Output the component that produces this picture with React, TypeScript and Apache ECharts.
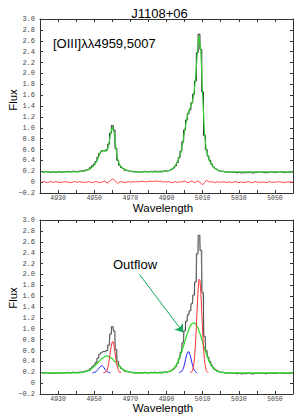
import React, { useEffect, useRef } from "react";
import * as echarts from "echarts";

// sampling: 1 Å per sample starting at WAVE_START
const WAVE_START = 4921;

const flux = [
  0.19, 0.18, 0.19, 0.19, 0.18, 0.18, 0.19, 0.18, 0.18, 0.19, 0.19, 0.18, 0.19, 0.19, 0.2, 0.19, 0.19, 0.2, 0.2, 0.19, 0.2,
  0.2, 0.21, 0.2, 0.22, 0.23, 0.24, 0.27, 0.3, 0.33, 0.38, 0.46, 0.53, 0.56, 0.58, 0.58, 0.6, 0.7, 0.9, 1.04, 0.96,
  0.62, 0.4, 0.31, 0.27, 0.25, 0.22, 0.21, 0.21, 0.2, 0.19, 0.19,
  0.19, 0.19, 0.18, 0.19, 0.19, 0.2, 0.19, 0.19, 0.2, 0.19, 0.2, 0.2, 0.19, 0.2, 0.2,
  0.2, 0.21, 0.2, 0.21, 0.22, 0.24, 0.26, 0.3, 0.36, 0.45, 0.57, 0.74, 0.96, 1.14, 1.26, 1.33, 1.46, 1.62, 1.86, 2.38,
  2.72, 2.44, 1.66, 0.86, 0.6, 0.48, 0.4, 0.33, 0.28, 0.25, 0.23, 0.21, 0.2, 0.2, 0.19,
  0.19, 0.18, 0.19, 0.18, 0.18, 0.18, 0.17, 0.18, 0.17, 0.17, 0.18, 0.17, 0.18, 0.18, 0.17, 0.17, 0.18, 0.18, 0.19, 0.18,
  0.18, 0.18, 0.17, 0.18, 0.18, 0.19, 0.18, 0.18, 0.18, 0.19, 0.19, 0.18, 0.18, 0.18, 0.18, 0.18, 0.19, 0.18,
];

const model = [
  0.19, 0.19, 0.19, 0.19, 0.19, 0.19, 0.19, 0.19, 0.19, 0.19, 0.19, 0.19, 0.19, 0.19, 0.19, 0.19, 0.19, 0.19, 0.19, 0.19, 0.19,
  0.19, 0.2, 0.2, 0.21, 0.22, 0.23, 0.25, 0.28, 0.31, 0.36, 0.43, 0.52, 0.58, 0.58, 0.57, 0.58, 0.68, 0.88, 1.02, 0.91,
  0.63, 0.42, 0.32, 0.28, 0.25, 0.23, 0.22, 0.21, 0.2, 0.2, 0.19,
  0.19, 0.19, 0.19, 0.19, 0.19, 0.19, 0.19, 0.19, 0.19, 0.19, 0.19, 0.19, 0.19, 0.19, 0.19,
  0.19, 0.2, 0.2, 0.21, 0.22, 0.24, 0.27, 0.31, 0.37, 0.45, 0.55, 0.72, 0.93, 1.12, 1.27, 1.36, 1.44, 1.58, 1.88, 2.35,
  2.7, 2.42, 1.62, 0.9, 0.6, 0.47, 0.38, 0.32, 0.28, 0.25, 0.23, 0.21, 0.2, 0.2, 0.19,
  0.19, 0.19, 0.19, 0.19, 0.19, 0.19, 0.19, 0.19, 0.19, 0.19, 0.19, 0.19, 0.19, 0.19, 0.19, 0.19, 0.19, 0.19, 0.19, 0.19,
  0.19, 0.19, 0.19, 0.19, 0.19, 0.19, 0.19, 0.19, 0.19, 0.19, 0.19, 0.19, 0.19, 0.19, 0.19, 0.19, 0.19, 0.19,
];

const residual = [
  0, 0.01, 0, -0.01, 0, 0.01, 0, 0, 0.01, 0, -0.01, 0, 0, 0.01, 0, 0, -0.01, 0, 0.01, 0,
  0, 0.01, 0, 0, -0.01, 0, 0.01, 0, -0.01, 0, 0.01, 0, -0.01, 0, 0.01, 0.02, -0.02, 0, 0.03, 0.06,
  0.04, 0.01, -0.02, 0, 0.01, 0, -0.01, 0, 0.01, 0, 0, 0.01, 0, 0.01, 0, 0.02, 0.01, 0.01, 0, 0.02,
  0.01, 0.02, 0.01, 0.02, 0.02, 0.01, 0.02, 0, 0.01, 0, 0.01, 0, -0.01, 0, 0.01, -0.01, 0.01, 0, 0.01, 0.02,
  0, -0.01, 0.01, 0.02, 0, -0.01, 0.02, 0.01, -0.02, -0.05, -0.01, 0.03, 0.02, 0, 0.01, 0, -0.01, 0.01, 0, 0,
  0, 0.01, -0.01, 0, 0, -0.01, 0, 0.01, 0, -0.01, 0, 0, -0.01, 0, 0.01, 0, -0.01, 0, 0.01, 0,
  0, -0.01, 0, 0, -0.01, 0, 0.01, 0, 0, 0, 0, 0.01, 0, 0, -0.01, 0, 0, 0.01, 0, 0,
];

// broad (outflow) component incl. continuum
const outflow = [
  0.19, 0.19, 0.19, 0.19, 0.19, 0.19, 0.19, 0.19, 0.19, 0.19, 0.19, 0.19, 0.19, 0.19, 0.19, 0.19, 0.19, 0.19, 0.19, 0.19, 0.19,
  0.19, 0.2, 0.2, 0.21, 0.22, 0.23, 0.25, 0.28, 0.31, 0.34, 0.38, 0.41, 0.45, 0.47, 0.49, 0.5, 0.49, 0.47, 0.45, 0.41,
  0.38, 0.34, 0.31, 0.28, 0.25, 0.23, 0.22, 0.21, 0.2, 0.2, 0.19,
  0.19, 0.19, 0.19, 0.19, 0.19, 0.19, 0.19, 0.19, 0.19, 0.19, 0.19, 0.19, 0.19, 0.19, 0.19,
  0.19, 0.2, 0.2, 0.21, 0.22, 0.24, 0.27, 0.31, 0.37, 0.45, 0.54, 0.64, 0.75, 0.86, 0.96, 1.04, 1.09, 1.11, 1.09, 1.04,
  0.96, 0.86, 0.75, 0.64, 0.54, 0.45, 0.37, 0.31, 0.27, 0.24, 0.22, 0.21, 0.2, 0.2, 0.19,
  0.19, 0.19, 0.19, 0.19, 0.19, 0.19, 0.19, 0.19, 0.19, 0.19, 0.19, 0.19, 0.19, 0.19, 0.19, 0.19, 0.19, 0.19, 0.19, 0.19,
  0.19, 0.19, 0.19, 0.19, 0.19, 0.19, 0.19, 0.19, 0.19, 0.19, 0.19, 0.19, 0.19, 0.19, 0.19, 0.19, 0.19, 0.19,
];

// narrow components, 0.5 Å sampling
const HALF_STEP = 0.5;
const narrow5007Start = 5003;
const narrow5007 = [0.19, 0.2, 0.21, 0.24, 0.32, 0.46, 0.7, 1.02, 1.4, 1.73, 1.91, 1.89, 1.67, 1.32, 0.95, 0.64, 0.43, 0.3, 0.23, 0.21, 0.19];
const narrow4959Start = 4955;
const narrow4959 = [0.19, 0.19, 0.2, 0.21, 0.23, 0.28, 0.36, 0.47, 0.59, 0.7, 0.76, 0.76, 0.68, 0.57, 0.44, 0.34, 0.27, 0.23, 0.2, 0.2, 0.19];
const blue5007Start = 4997;
const blue5007 = [0.19, 0.2, 0.21, 0.22, 0.25, 0.29, 0.35, 0.43, 0.5, 0.55, 0.58, 0.57, 0.52, 0.46, 0.38, 0.32, 0.27, 0.23, 0.21, 0.2, 0.19];
const blue4959Start = 4949;
const blue4959 = [0.19, 0.19, 0.2, 0.2, 0.21, 0.23, 0.25, 0.27, 0.29, 0.31, 0.32, 0.32, 0.3, 0.28, 0.25, 0.23, 0.22, 0.2, 0.2, 0.19, 0.19];

const xTickLabels = [4930, 4950, 4970, 4990, 5010, 5030, 5050];
const X_MIN = 4920;
const X_MAX = 5060;
const X_STEP = 10;
const Y_MIN = -0.2;
const Y_MAX = 3.0;
const Y_STEP = 0.2;

const arrowFrom = [4975, 2.0];
const arrowTo = [4999.3, 0.93];

const SANS = '"Liberation Sans", Arial, sans-serif';
const MONO = '"Liberation Mono", "DejaVu Sans Mono", monospace';

const pairs = (arr: number[], start: number, step: number) => arr.map((v, i) => [start + i * step, v]);

const xLabelFmt = (v: number) => (xTickLabels.some((t) => Math.abs(t - v) < 1e-6) ? String(Math.round(v)) : "");
const yLabelFmt = (v: number) => {
  if (Math.abs(v) < 1e-9) return "0";
  return (v < 0 ? "\u2212" : "") + Math.abs(v).toFixed(1);
};

function makeXAxes(grid: number) {
  const base = {
    type: "value",
    gridIndex: grid,
    min: X_MIN,
    max: X_MAX,
    interval: X_STEP,
    splitLine: { show: false },
    axisLine: { show: true, onZero: false, lineStyle: { color: "#333", width: 1 } },
    axisTick: { show: true, inside: true, length: 3, lineStyle: { color: "#333" } },
  };
  return [
    {
      ...base,
      position: "bottom",
      axisLabel: { show: true, formatter: xLabelFmt, fontFamily: MONO, fontSize: 6.5, color: "#444", margin: 2, showMinLabel: true, showMaxLabel: true },
    },
    { ...base, position: "top", axisLabel: { show: false } },
  ];
}

function makeYAxes(grid: number) {
  const base = {
    type: "value",
    gridIndex: grid,
    min: Y_MIN,
    max: Y_MAX,
    interval: Y_STEP,
    splitLine: { show: false },
    axisLine: { show: true, onZero: false, lineStyle: { color: "#333", width: 1 } },
    axisTick: { show: true, inside: true, length: 3, lineStyle: { color: "#333" } },
  };
  return [
    {
      ...base,
      position: "left",
      axisLabel: { show: true, formatter: yLabelFmt, fontFamily: MONO, fontSize: 7, color: "#444", margin: 5 },
    },
    { ...base, position: "right", axisLabel: { show: false } },
  ];
}

const lineSeries = (name: string, data: number[][], xi: number, yi: number, color: string, width: number, extra: any = {}) => ({
  name,
  type: "line",
  xAxisIndex: xi,
  yAxisIndex: yi,
  data,
  showSymbol: false,
  symbol: "none",
  lineStyle: { color, width },
  itemStyle: { color },
  silent: true,
  ...extra,
});

export default function App() {
  const ref = useRef<HTMLDivElement>(null);
  useEffect(() => {
    document.body.style.margin = "0";
    if (!ref.current) return;
    const chart = echarts.init(ref.current, undefined, { renderer: "svg" });
    const fluxPts = pairs(flux, WAVE_START, 1);
    const option: any = {
      animation: false,
      backgroundColor: "#fff",
      grid: [
        { left: 40, top: 19, width: 253, height: 174 },
        { left: 40, top: 220, width: 253, height: 174 },
      ],
      xAxis: [...makeXAxes(0), ...makeXAxes(1)],
      yAxis: [...makeYAxes(0), ...makeYAxes(1)],
      series: [
        lineSeries("data", fluxPts, 0, 0, "#222", 1, { step: "middle" }),
        lineSeries("model", pairs(model, WAVE_START, 1), 0, 0, "#33cc33", 1.2),
        lineSeries("residual", pairs(residual, WAVE_START, 1), 0, 0, "#ff4444", 1),
        lineSeries("data gray", fluxPts, 2, 2, "#c4c4c4", 1),
        lineSeries("data2", fluxPts, 2, 2, "#444", 0.9, { step: "middle" }),
        lineSeries("outflow", pairs(outflow, WAVE_START, 1), 2, 2, "#22dd22", 1.2, {
          markLine: {
            silent: true,
            symbol: ["none", "arrow"],
            symbolSize: 8,
            lineStyle: { color: "#11aa55", width: 1, type: "solid" },
            label: { show: false },
            data: [[{ coord: arrowFrom }, { coord: arrowTo }]],
          },
        }),
        lineSeries("blue5007", pairs(blue5007, blue5007Start, HALF_STEP), 2, 2, "#2222ff", 1),
        lineSeries("blue4959", pairs(blue4959, blue4959Start, HALF_STEP), 2, 2, "#2222ff", 1),
        lineSeries("red5007", pairs(narrow5007, narrow5007Start, HALF_STEP), 2, 2, "#ff3333", 1),
        lineSeries("red4959", pairs(narrow4959, narrow4959Start, HALF_STEP), 2, 2, "#ff3333", 1),
      ],
      graphic: [
        { type: "text", x: 159.5, y: 13, style: { text: "J1108+06", font: `13px ${SANS}`, fill: "#000", align: "center", verticalAlign: "middle" } },
        { type: "text", x: 53, y: 43.5, style: { text: "[OIII]λλ4959,5007", font: `13px ${SANS}`, fill: "#000", align: "left", verticalAlign: "middle" } },
        { type: "text", x: 13, y: 100, rotation: Math.PI / 2, style: { text: "Flux", font: `11.5px ${SANS}`, fill: "#000", align: "center", verticalAlign: "middle" } },
        { type: "text", x: 13, y: 298, rotation: Math.PI / 2, style: { text: "Flux", font: `11.5px ${SANS}`, fill: "#000", align: "center", verticalAlign: "middle" } },
        { type: "text", x: 163, y: 207.5, style: { text: "Wavelength", font: `11.5px ${SANS}`, fill: "#000", align: "center", verticalAlign: "middle" } },
        { type: "text", x: 163, y: 408, style: { text: "Wavelength", font: `11.5px ${SANS}`, fill: "#000", align: "center", verticalAlign: "middle" } },
        { type: "text", x: 113, y: 264, style: { text: "Outflow", font: `13px ${SANS}`, fill: "#000", align: "left", verticalAlign: "middle" } },
      ],
    };
    chart.setOption(option);
    return () => chart.dispose();
  }, []);
  return <div ref={ref} style={{ position: "fixed", left: 0, top: 0, width: 299, height: 420, background: "#fff" }} />;
}
